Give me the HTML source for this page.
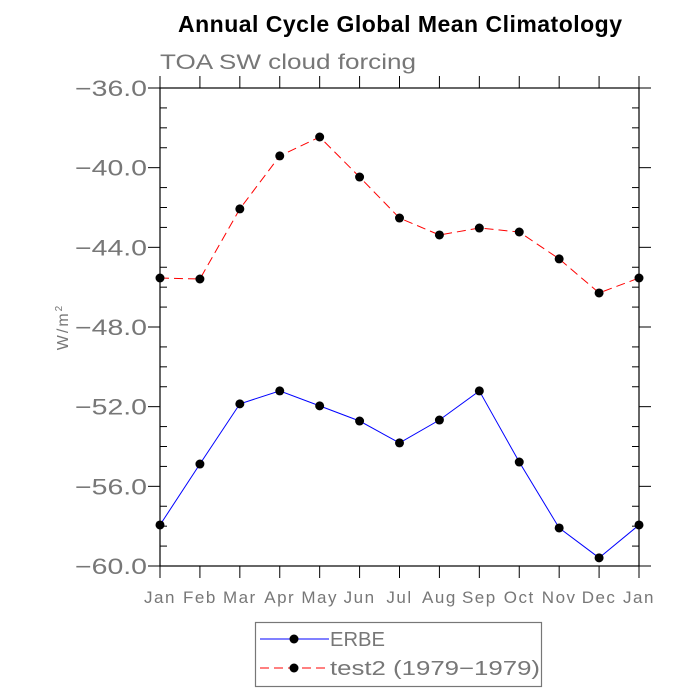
<!DOCTYPE html>
<html><head><meta charset="utf-8"><style>
body{margin:0;background:#fff;}
svg{display:block;font-family:"Liberation Sans",sans-serif;}
</style></head><body>
<svg id="chart" width="700" height="700">
<text x="400" y="32" text-anchor="middle" font-size="23" font-weight="bold" fill="#000" textLength="444">Annual Cycle Global Mean Climatology</text>
<text x="160" y="69" font-size="21" fill="#777" textLength="256" lengthAdjust="spacingAndGlyphs">TOA SW cloud forcing</text>
<text transform="translate(68,327) rotate(-90)" text-anchor="middle" font-size="16" fill="#777" letter-spacing="2">W/m<tspan font-size="10" dy="-6">2</tspan></text>
<g id="axes"></g>
<g id="marks"></g>
<g>
<rect x="255.5" y="622.5" width="286" height="64" fill="none" stroke="#777" stroke-width="1.2"/>
<g>
<line x1="260" y1="639" x2="329" y2="639" stroke="#00f" stroke-width="1"/>
<circle cx="294" cy="639" r="4.5" fill="#000"/>
<text x="330" y="646" font-size="20" fill="#777" textLength="55" lengthAdjust="spacingAndGlyphs">ERBE</text></g>
<g>
<line x1="260" y1="668" x2="329" y2="668" stroke="#f00" stroke-width="1" stroke-dasharray="9,5"/>
<circle cx="294" cy="668" r="4.5" fill="#000"/>
<text x="330" y="675" font-size="20" fill="#777" textLength="210" lengthAdjust="spacingAndGlyphs">test2 (1979−1979)</text></g>
</g>
</svg>
<script>
const months=["Jan","Feb","Mar","Apr","May","Jun","Jul","Aug","Sep","Oct","Nov","Dec","Jan"];
const erbe=[-57.94,-54.88,-51.86,-51.21,-51.96,-52.72,-53.82,-52.67,-51.21,-54.78,-58.09,-59.59,-57.94];
const test2=[-45.54,-45.59,-42.07,-39.41,-38.46,-40.47,-42.53,-43.38,-43.03,-43.23,-44.58,-46.29,-45.54];
const yTicks=[-36,-40,-44,-48,-52,-56,-60];
const yTickLabels=["−36.0","−40.0","−44.0","−48.0","−52.0","−56.0","−60.0"];
const L=160,R=639,T=88,B=566,yMin=-60,yMax=-36;
const xs=i=>L+(R-L)*i/(months.length-1);
const ys=v=>B-(v-yMin)/(yMax-yMin)*(B-T);
const NS="http://www.w3.org/2000/svg";
function mk(tag,attrs,parent){const e=document.createElementNS(NS,tag);for(const k in attrs)e.setAttribute(k,attrs[k]);parent.appendChild(e);return e;}
const ax=document.getElementById('axes'),mg=document.getElementById('marks');
const frame=mk('rect',{x:L,y:T,width:R-L,height:B-T,fill:'none',stroke:'#000','stroke-width':1.2},ax);


for(let v=yMin;v<=yMax;v++){
  const y=ys(v),major=(v%4===0);
  const l1=mk('line',{x1:major?L-12:L,y1:y,x2:major?L:L+7,y2:y,stroke:'#000','stroke-width':1},ax);
  
  
  const l2=mk('line',{x1:major?R:R-7,y1:y,x2:major?R+12:R,y2:y,stroke:'#000','stroke-width':1},ax);
  
  
}
yTicks.forEach((v,i)=>{
  const t=mk('text',{x:75,y:ys(v)+8,'font-size':22,fill:'#777',textLength:72,lengthAdjust:'spacingAndGlyphs'},ax);
  t.textContent=yTickLabels[i];
  
  
});
months.forEach((m,i)=>{
  const x=xs(i);
  const a=mk('line',{x1:x,y1:B,x2:x,y2:B+12,stroke:'#000','stroke-width':1},ax);
  
  
  const b=mk('line',{x1:x,y1:T-12,x2:x,y2:T,stroke:'#000','stroke-width':1},ax);
  
  
  const t=mk('text',{x:x,y:B+37,'text-anchor':'middle','font-size':17,fill:'#777','letter-spacing':1.5},ax);
  t.textContent=m;
  
  
});
function series(vals,color,dash,name){
  const p=mk('polyline',{points:vals.map((v,i)=>xs(i)+','+ys(v)).join(' '),fill:'none',stroke:color,'stroke-width':1,'stroke-dasharray':dash},mg);
  
  
  vals.forEach((v,i)=>{
    const c=mk('circle',{cx:xs(i),cy:ys(v),r:4.5,fill:'#000'},mg);
    
    
  });
}
series(test2,'#f00','9,5','test2');
series(erbe,'#00f','none','erbe');
</script>
</body></html>
